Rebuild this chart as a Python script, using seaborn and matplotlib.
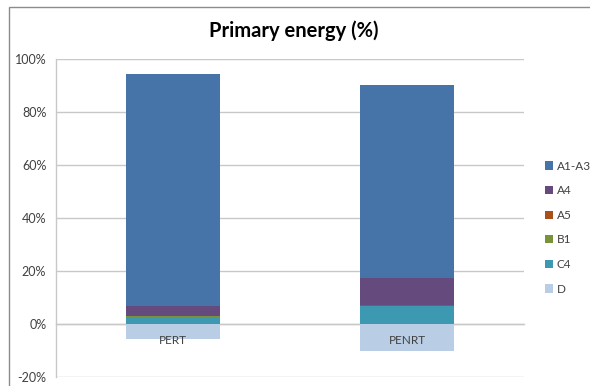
import matplotlib
matplotlib.use("Agg")
import matplotlib.pyplot as plt
from matplotlib.patches import Rectangle, Patch
import seaborn as sns
import pandas as pd

# Share of primary energy per life-cycle module (%)
categories = ["PERT", "PENRT"]
modules = ["A1-A3", "A4", "A5", "B1", "C4", "D"]
a1_a3 = [87.95, 73.0]
a4 = [3.65, 10.2]
a5 = [0.1, 0.3]
b1 = [0.05, 0.1]
c4 = [2.75, 6.8]
d = [-5.7, -10.1]
y_ticks = [-20, 0, 20, 40, 60, 80, 100]
y_tick_labels = ["-20%", "0%", "20%", "40%", "60%", "80%", "100%"]

colors = {
    "A1-A3": "#4673A8",
    "A4": "#654B7D",
    "A5": "#A9501A",
    "B1": "#77933C",
    "C4": "#3D99B1",
    "D": "#B9CDE5",
}

series = {"A1-A3": a1_a3, "A4": a4, "A5": a5, "B1": b1, "C4": c4, "D": d}

sns.set_theme(style="white")
plt.rcParams["font.family"] = ["Lato", "DejaVu Sans"]

fig = plt.figure(figsize=(5.9, 3.86), dpi=100)
ax = fig.add_axes([56 / 590, 1 - 376.7 / 386, (524 - 56) / 590, (376.7 - 59.3) / 386])

# outer chart frame
fig.patches.append(Rectangle((9 / 590, -0.05), 1.2, 1 - 7 / 386 + 0.05,
                             transform=fig.transFigure, fill=False,
                             edgecolor="#8C8C8C", linewidth=1.0, zorder=0))

# positive modules stacked from the bottom up, D drawn below zero
stack_order = ["C4", "B1", "A5", "A4", "A1-A3"]
bottoms = [0.0] * len(categories)
for name in stack_order:
    df = pd.DataFrame({"cat": categories, "val": series[name]})
    sns.barplot(data=df, x="cat", y="val", order=categories, color=colors[name],
                width=0.4, bottom=bottoms, ax=ax, saturation=1, linewidth=0, zorder=3)
    bottoms = [b + v for b, v in zip(bottoms, series[name])]

df_d = pd.DataFrame({"cat": categories, "val": d})
sns.barplot(data=df_d, x="cat", y="val", order=categories, color=colors["D"],
            width=0.4, ax=ax, saturation=1, linewidth=0, zorder=3)

ax.set_xlim(-0.5, 1.5)
ax.set_ylim(-20, 100)
ax.set_xlabel("")
ax.set_ylabel("")

grid_c = "#C8C8C8"
ax.set_yticks(y_ticks)
ax.set_yticklabels(y_tick_labels)
ax.yaxis.grid(True, color=grid_c, linewidth=1.0, zorder=0)
ax.set_axisbelow(True)
# category labels sit on top of the negative bars
ax.xaxis.set_zorder(4)

for s in ["top", "right"]:
    ax.spines[s].set_visible(False)
ax.spines["left"].set_color(grid_c)
ax.spines["left"].set_linewidth(1.0)
ax.spines["bottom"].set_position(("data", 0))
ax.spines["bottom"].set_color(grid_c)
ax.spines["bottom"].set_linewidth(1.0)
ax.spines["bottom"].set_zorder(2)

ax.tick_params(axis="y", which="major", direction="out", length=4, width=1,
               color=grid_c, labelsize=9, labelcolor="#404040", pad=3)
ax.set_xticks([0, 1])
ax.set_xticklabels(categories)
ax.set_xticks([-0.5, 0.5, 1.5], minor=True)
ax.tick_params(axis="x", which="major", length=0, labelsize=8.5, labelcolor="#404040", pad=8)
ax.tick_params(axis="x", which="minor", direction="out", length=4, width=1, color=grid_c)

fig.text(294 / 590, 1 - 31 / 386, "Primary energy (%)", ha="center", va="center",
         fontsize=14.5, fontweight="bold", color="black")

handles = [Patch(facecolor=colors[m], edgecolor="none", label=m) for m in modules]
leg = fig.legend(handles=handles, loc="upper left",
                 bbox_to_anchor=(540 / 590, 1 - 156 / 386),
                 frameon=False, fontsize=8.5, handlelength=0.7, handleheight=0.7,
                 handletextpad=0.3, labelspacing=1.15, borderaxespad=0)
for t in leg.get_texts():
    t.set_color("#404040")

fig.savefig("out.png", dpi=100)
